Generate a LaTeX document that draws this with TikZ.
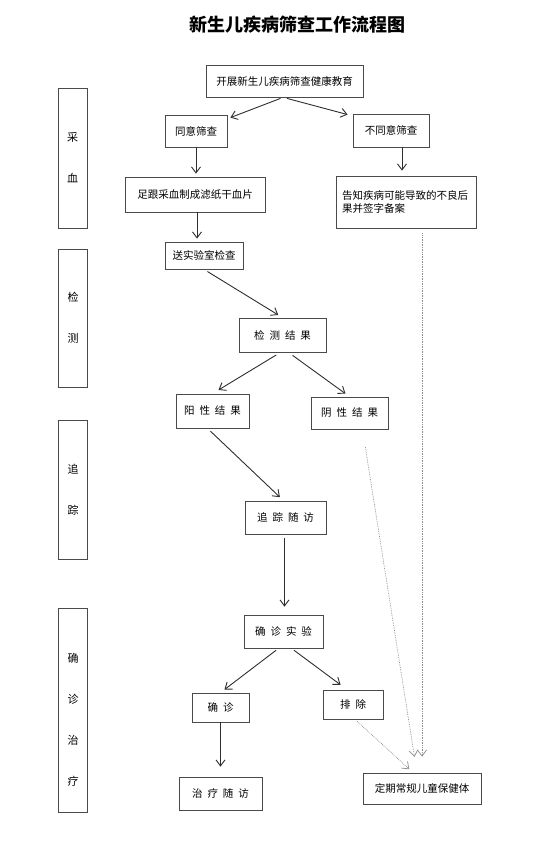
\documentclass[tikz,border=0pt]{standalone}
\usepackage{fontspec}
\setmainfont{Noto Sans CJK SC}
\usetikzlibrary{arrows.meta}
\definecolor{FlowLine}{HTML}{2E2E2E}
\definecolor{FlowBorder}{HTML}{4A4A4A}
\definecolor{FlowDot}{HTML}{8C8C8C}
\newcommand{\chgap}{\hspace{5pt}}
\tikzset{>={Straight Barb[length=6pt,width=9pt]},every node/.style={font=\fontsize{10.5pt}{13pt}\selectfont},
 box/.style={draw=FlowBorder,line width=.8pt,inner sep=0pt,align=center},
 lane/.style={draw=FlowBorder,line width=.9pt,minimum width=29pt,inner sep=0pt,align=center,
 font=\fontsize{11pt}{41pt}\selectfont},
 flow/.style={draw=FlowLine,line width=.9pt,->},
 skip/.style={draw=FlowDot,densely dotted,line width=.7pt,->}}
\begin{document}
\begin{tikzpicture}[x=1pt,y=-1pt]
\useasboundingbox (0,0) rectangle (554,850);
\node[font=\fontsize{18pt}{20pt}\selectfont\bfseries] (title) at (297,25) {新生儿疾病筛查工作流程图};
% stage lanes
\node[lane,minimum height=140pt] (laneA) at (72.5,158) {采\\血};
\node[lane,minimum height=138pt] (laneB) at (73,318) {检\\测};
\node[lane,minimum height=139pt] (laneC) at (73,489.5) {追\\踪};
\node[lane,minimum height=204pt,label={[yshift=-10pt,align=center,font=\fontsize{11pt}{41pt}\selectfont]center:确\\诊\\治\\疗}] (laneD) at (73,710) {};
% flow boxes
\node[box,minimum width=157pt,minimum height=32pt] (edu) at (284.5,81) {开展新生儿疾病筛查健康教育};
\node[box,minimum width=62pt,minimum height=32pt] (agree) at (196,131) {同意筛查};
\node[box,minimum width=76pt,minimum height=33pt] (disagree) at (391,130.5) {不同意筛查};
\node[box,minimum width=140pt,minimum height=35pt] (heel) at (195,194.5) {足跟采血制成滤纸干血片};
\node[box,minimum width=140pt,minimum height=52pt,text width=128pt,align=left] (inform) at (406,202)
 {告知疾病可能导致的不良后\\果并签字备案};
\node[box,minimum width=78pt,minimum height=27pt] (lab) at (204,255.5) {送实验室检查};
\node[box,minimum width=87pt,minimum height=34pt] (result) at (282.5,335) {检\chgap 测\chgap 结\chgap 果};
\node[box,minimum width=73pt,minimum height=34pt] (pos) at (212.5,411) {阳\chgap 性\chgap 结\chgap 果};
\node[box,minimum width=77pt,minimum height=32pt] (neg) at (349.5,413) {阴\chgap 性\chgap 结\chgap 果};
\node[box,minimum width=81pt,minimum height=33pt] (follow) at (285.5,517.5) {追\chgap 踪\chgap 随\chgap 访};
\node[box,minimum width=79pt,minimum height=33pt] (confirm) at (283.5,631.5) {确\chgap 诊\chgap 实\chgap 验};
\node[box,minimum width=57pt,minimum height=29pt] (diag) at (220.5,707.5) {确\chgap 诊};
\node[box,minimum width=60pt,minimum height=29pt] (exclude) at (353,704.5) {排\chgap 除};
\node[box,minimum width=83pt,minimum height=33pt] (treat) at (220.5,793.5) {治\chgap 疗\chgap 随\chgap 访};
\node[box,minimum width=118pt,minimum height=31pt] (routine) at (422,788.5) {定期常规儿童保健体};
% solid arrows
\draw[flow] ([xshift=-4pt,yshift=-1pt]edu.south) -- ([xshift=3pt,yshift=-3pt]agree.north east);
\draw[flow] ([xshift=2.5pt,yshift=-1pt]edu.south) -- ([xshift=-5pt,yshift=-1pt]disagree.north west);
\draw[flow,shorten >=3pt] (agree.south) -- (agree.south |- heel.north);
\draw[flow,shorten >=5pt] ([xshift=11pt]disagree.south) -- ([xshift=11pt]disagree.south |- inform.north);
\draw[flow,shorten >=3pt] ([xshift=2pt]heel.south) -- ([xshift=2pt]heel.south |- lab.north);
\draw[flow,shorten <=4pt,shorten >=5pt] (lab.south) -- (result.north);
\draw[flow,shorten <=5pt,shorten >=7pt] ([xshift=-2pt]result.south) -- (pos.north);
\draw[flow,shorten <=5pt,shorten >=5pt] ([xshift=6pt]result.south) -- (neg.north);
\draw[flow,shorten <=4pt,shorten >=5pt] ([xshift=-5pt]pos.south) -- ([xshift=-2pt]follow.north);
\draw[flow,shorten <=4pt,shorten >=8pt] ([xshift=-1pt]follow.south) -- ([xshift=-1pt]follow.south |- confirm.north);
\draw[flow,shorten <=3pt,shorten >=5pt] ([xshift=-5pt]confirm.south) -- (diag.north);
\draw[flow,shorten <=3pt,shorten >=8pt] ([xshift=8pt]confirm.south) -- ([xshift=-6pt]exclude.north);
\draw[flow,shorten >=10pt] (diag.south) -- (diag.south |- treat.north);
% dotted arrows to routine care
\draw[skip,shorten <=5pt,shorten >=16pt] ([xshift=16pt]inform.south) -- (routine.north);
\draw[skip,shorten <=18pt,shorten >=16pt] ([xshift=13pt]neg.south) -- ([xshift=-5pt]routine.north);
\draw[skip,shorten <=3pt,shorten >=5pt] ([xshift=2pt]exclude.south) -- ([xshift=-9pt]routine.north);
\end{tikzpicture}
\end{document}
